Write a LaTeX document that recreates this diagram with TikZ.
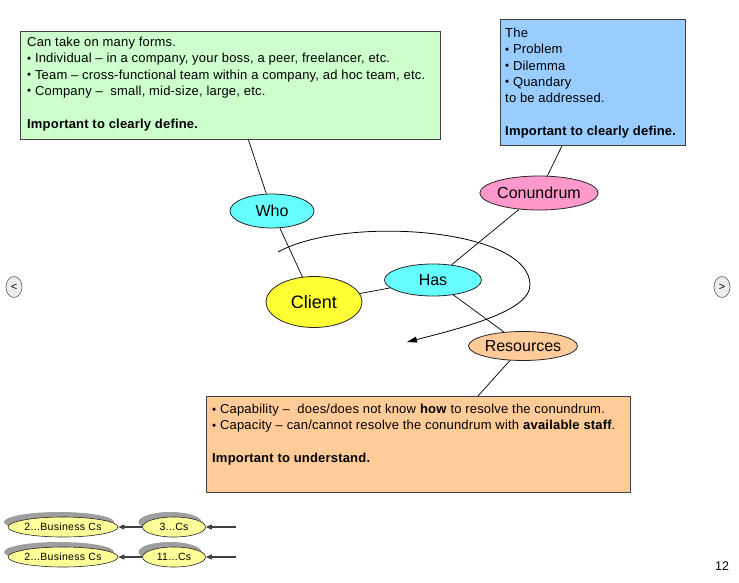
\documentclass[tikz,border=0pt]{standalone}
\usepackage{fontspec}
\setmainfont{Liberation Sans}
\usetikzlibrary{shapes.geometric,arrows.meta,calc,shadows}
\definecolor{gfill}{HTML}{CCFFCC}
\definecolor{bfill}{HTML}{99CCFF}
\definecolor{ofill}{HTML}{FFCC99}
\definecolor{pfill}{HTML}{FF99CC}
\definecolor{cfill}{HTML}{66FFFF}
\definecolor{yfill}{HTML}{FFFF33}
\definecolor{syfill}{HTML}{FFFF99}
\definecolor{boxline}{HTML}{404040}
\newcommand\mybul{\raisebox{0.08ex}{\scalebox{0.88}{•}}}
\begin{document}
\begin{tikzpicture}[x=1pt,y=-1pt,
  box/.style={draw=boxline, line width=0.9pt, rectangle, inner sep=0pt, anchor=north west},
  btext/.style={inner sep=0pt, anchor=north west, align=left, font=\fontsize{13}{16.3}\selectfont\addfontfeatures{LetterSpace=1.5}},
  ell/.style={ellipse, draw=black!85, line width=0.8pt, inner sep=0pt, font=\fontsize{16}{18}\selectfont},
  link/.style={draw=black, line width=0.7pt},
  sell/.style={ellipse, draw=black!85, fill=syfill, line width=0.6pt, inner sep=0pt,
    font=\fontsize{10.5}{12}\selectfont\addfontfeatures{LetterSpace=3},
    general shadow={fill=black!38, shadow xshift=-4pt, shadow yshift=5pt}},
  sarrow/.style={draw=black!75, line width=1.1pt, -{Triangle[length=6pt,width=5pt]}},
  nav/.style={ellipse, draw=black!65, fill=black!7, line width=0.6pt, inner sep=0pt,
    minimum width=16pt, minimum height=21pt, font=\fontsize{11}{12}\selectfont}
]
\useasboundingbox (0,0) rectangle (739,583);

% boxes
\node[box, fill=gfill, minimum width=420pt, minimum height=108pt] (green) at (20,31) {};
\node[btext] (greentext) at (27,37) {Can take on many forms.\\
\mybul\ Individual – in a company, your boss, a peer, freelancer, etc.\\
\mybul\ Team – cross-functional team within a company, ad hoc team, etc.\\
\mybul\ Company – \ small, mid-size, large, etc.\\[16.3pt]
\textbf{Important to clearly define.}};

\node[box, fill=bfill, minimum width=185pt, minimum height=126pt] (blue) at (500,19) {};
\node[btext] (bluetext) at (505,28) {The\\
\mybul\ Problem\\
\mybul\ Dilemma\\
\mybul\ Quandary\\
to be addressed.\\[16.3pt]
\textbf{Important to clearly define.}};

\node[box, fill=ofill, minimum width=424pt, minimum height=96pt] (orange) at (206,396) {};
\node[btext] (orangetext) at (212,404) {\mybul\ Capability – \ does/does not know \textbf{how} to resolve the conundrum.\\
\mybul\ Capacity – can/cannot resolve the conundrum with \textbf{available staff}.\\[16.3pt]
\textbf{Important to understand.}};

% ellipses
\node[ell, fill=cfill, minimum width=84pt, minimum height=34pt] (who) at (272,211) {Who};
\node[ell, fill=pfill, minimum width=115pt, minimum height=34pt] (con) at (539,193) {Conundrum};
\node[ell, fill=yfill, minimum width=96pt, minimum height=51pt, font=\fontsize{18}{20}\selectfont] (client) at (314,302) {Client};
\node[ell, fill=cfill, minimum width=97pt, minimum height=32pt] (has) at (433,280) {Has};
\node[ell, fill=ofill, minimum width=109pt, minimum height=29pt] (res) at (523,346) {Resources};

% links
\draw[link] (green) -- (who);
\draw[link] (who) -- (client);
\draw[link] (client) -- (has);
\draw[link] (has) -- (con);
\draw[link] (blue) -- (con);
\draw[link] (has) -- (res);
\coordinate (otop) at ($(orange.north west)!0.64!(orange.north east)$);
\draw[link] (res) -- (otop);

% curved arrow
\coordinate (cstart) at (278,252);
\coordinate (cmid) at (530,285);
\coordinate (cend) at (407,342);
\draw[line width=0.8pt, -{Triangle[length=10pt,width=6pt]}] (cstart) .. controls (345,215) and (530,228) .. (cmid) .. controls (530,310) and (470,326) .. (cend);

% nav buttons
\node[nav] (prev) at (14,287) {<};
\node[nav] (next) at (722,287) {>};

% bottom-left navigation
\node[sell, minimum width=110pt, minimum height=20pt] (b1) at (63,527) {2...Business Cs};
\node[sell, minimum width=63pt, minimum height=20pt] (c3) at (174,527) {3...Cs};
\node[sell, minimum width=110pt, minimum height=20pt] (b2) at (63,557) {2...Business Cs};
\node[sell, minimum width=63pt, minimum height=20pt] (c11) at (174,557) {11...Cs};
\coordinate (in1) at (236,527);
\coordinate (in2) at (236,557);
\draw[sarrow] (in1) -- (c3);
\draw[sarrow] (c3) -- (b1);
\draw[sarrow] (in2) -- (c11);
\draw[sarrow] (c11) -- (b2);

% page number
\node[inner sep=0pt, font=\fontsize{12.5}{14}\selectfont] (pnum) at (722,566) {12};
\end{tikzpicture}
\end{document}
